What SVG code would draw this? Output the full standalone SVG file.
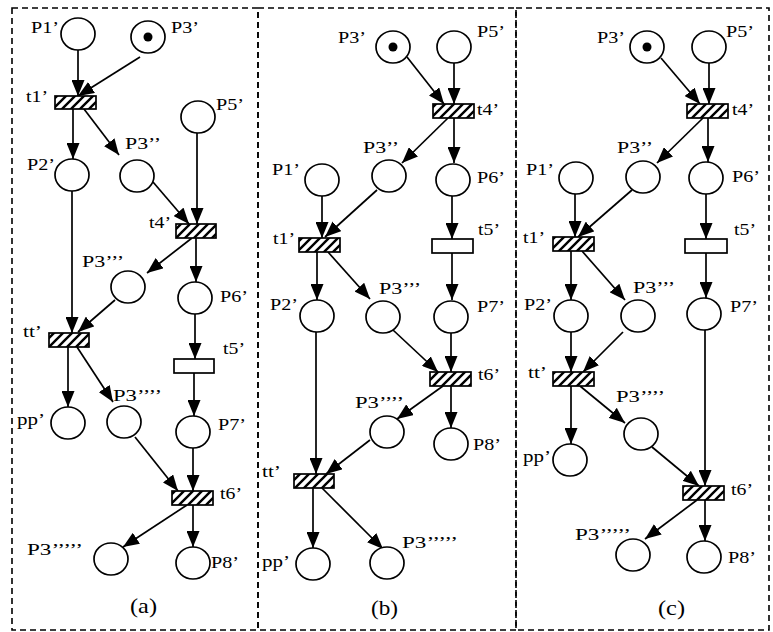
<svg xmlns="http://www.w3.org/2000/svg" width="773" height="632" viewBox="0 0 773 632">
<style>
.frame{fill:none;stroke:#000;stroke-width:1.6;stroke-dasharray:6 4}
.pl{fill:#fff;stroke:#000;stroke-width:1.7}
.tk{fill:#000}
.tr{fill:url(#hatch);stroke:#000;stroke-width:1.7}
.tw{fill:#fff;stroke:#000;stroke-width:1.7}
.arc{fill:none;stroke:#000;stroke-width:1.7;marker-end:url(#ah)}
.lb{font-family:"Liberation Serif","Times New Roman",serif;font-size:17.5px;fill:#000}
.cap{font-family:"Liberation Serif","Times New Roman",serif;font-size:21px;fill:#000}
</style>
<defs>
<pattern id="hatch" patternUnits="userSpaceOnUse" width="9" height="9">
<rect width="9" height="9" fill="#fff"/>
<path d="M-2,2 L2,-2 M0,9 L9,0 M7,11 L11,7" stroke="#000" stroke-width="2.4"/>
</pattern>
<marker id="ah" markerUnits="userSpaceOnUse" markerWidth="16" markerHeight="13" refX="16" refY="6.5" orient="auto">
<path d="M0,0 L16,6.5 L0,13 z" fill="#000"/>
</marker>
</defs>
<rect class="frame" x="12" y="8" width="246" height="622"/>
<rect class="frame" x="258" y="8" width="258" height="622"/>
<rect class="frame" x="516" y="8" width="253" height="622"/>

<!-- Panel (a) -->
<g id="connectors-a">
<line class="arc" x1="78" y1="50" x2="78" y2="96"/>
<line class="arc" x1="140" y1="57" x2="78" y2="96"/>
<line class="arc" x1="73" y1="109" x2="73" y2="159"/>
<line class="arc" x1="84" y1="109" x2="119" y2="155"/>
<line class="arc" x1="197" y1="133" x2="197" y2="224"/>
<line class="arc" x1="153" y1="182" x2="189" y2="224"/>
<line class="arc" x1="192" y1="238" x2="147" y2="273"/>
<line class="arc" x1="196" y1="238" x2="196" y2="282"/>
<line class="arc" x1="115" y1="300" x2="78" y2="332"/>
<line class="arc" x1="72" y1="191" x2="72" y2="333"/>
<line class="arc" x1="195" y1="314" x2="195" y2="359"/>
<line class="arc" x1="194" y1="373" x2="194" y2="416"/>
<line class="arc" x1="68" y1="347" x2="68" y2="407"/>
<line class="arc" x1="77" y1="347" x2="113" y2="402"/>
<line class="arc" x1="135" y1="437" x2="178" y2="491"/>
<line class="arc" x1="193" y1="448" x2="193" y2="491"/>
<line class="arc" x1="187" y1="505" x2="123" y2="547"/>
<line class="arc" x1="193" y1="505" x2="193" y2="547"/>
</g>
<g id="a-P1"><ellipse class="pl" cx="78" cy="34" rx="17" ry="16"/><text class="lb" x="31" y="33" textLength="28" lengthAdjust="spacingAndGlyphs">P1’</text></g>
<g id="a-P3"><ellipse class="pl" cx="148" cy="37" rx="17" ry="16"/><circle class="tk" cx="148" cy="37" r="4.5"/><text class="lb" x="171" y="33" textLength="28" lengthAdjust="spacingAndGlyphs">P3’</text></g>
<g id="a-t1"><rect class="tr" x="55" y="96" width="41" height="13"/><text class="lb" x="26" y="102" textLength="22" lengthAdjust="spacingAndGlyphs">t1’</text></g>
<g id="a-P5"><ellipse class="pl" cx="198" cy="117" rx="17" ry="16"/><text class="lb" x="216" y="110" textLength="28" lengthAdjust="spacingAndGlyphs">P5’</text></g>
<g id="a-P2"><ellipse class="pl" cx="72" cy="175" rx="17" ry="16"/><text class="lb" x="27" y="170" textLength="28" lengthAdjust="spacingAndGlyphs">P2’</text></g>
<g id="a-P3b"><ellipse class="pl" cx="137" cy="176" rx="17" ry="16"/><text class="lb" x="125" y="149" textLength="36" lengthAdjust="spacingAndGlyphs">P3’’</text></g>
<g id="a-t4"><rect class="tr" x="176" y="224" width="40" height="14"/><text class="lb" x="149" y="228" textLength="22" lengthAdjust="spacingAndGlyphs">t4’</text></g>
<g id="a-P3c"><ellipse class="pl" cx="128" cy="287" rx="17" ry="16"/><text class="lb" x="82" y="267" textLength="42" lengthAdjust="spacingAndGlyphs">P3’’’</text></g>
<g id="a-P6"><ellipse class="pl" cx="195" cy="298" rx="17" ry="16"/><text class="lb" x="220" y="302" textLength="28" lengthAdjust="spacingAndGlyphs">P6’</text></g>
<g id="a-tt"><rect class="tr" x="49" y="333" width="40" height="14"/><text class="lb" x="23" y="337" textLength="19" lengthAdjust="spacingAndGlyphs">tt’</text></g>
<g id="a-t5"><rect class="tw" x="174" y="359" width="40" height="14"/><text class="lb" x="223" y="354" textLength="22" lengthAdjust="spacingAndGlyphs">t5’</text></g>
<g id="a-pp"><ellipse class="pl" cx="68" cy="423" rx="17" ry="16"/><text class="lb" x="17" y="425" textLength="28" lengthAdjust="spacingAndGlyphs">pp’</text></g>
<g id="a-P3d"><ellipse class="pl" cx="124" cy="422" rx="17" ry="16"/><text class="lb" x="113" y="401" textLength="49" lengthAdjust="spacingAndGlyphs">P3’’’’</text></g>
<g id="a-P7"><ellipse class="pl" cx="193" cy="432" rx="17" ry="16"/><text class="lb" x="218" y="430" textLength="28" lengthAdjust="spacingAndGlyphs">P7’</text></g>
<g id="a-t6"><rect class="tr" x="172" y="491" width="41" height="14"/><text class="lb" x="220" y="499" textLength="22" lengthAdjust="spacingAndGlyphs">t6’</text></g>
<g id="a-P3e"><ellipse class="pl" cx="111" cy="559" rx="17" ry="16"/><text class="lb" x="27" y="555" textLength="56" lengthAdjust="spacingAndGlyphs">P3’’’’’</text></g>
<g id="a-P8"><ellipse class="pl" cx="193" cy="563" rx="17" ry="16"/><text class="lb" x="211" y="568" textLength="28" lengthAdjust="spacingAndGlyphs">P8’</text></g>
<text class="cap" x="130" y="613" textLength="27" lengthAdjust="spacingAndGlyphs">(a)</text>

<!-- Panel (b) -->
<g id="connectors-b">
<line class="arc" x1="407" y1="57" x2="444" y2="104"/>
<line class="arc" x1="454" y1="63" x2="454" y2="104"/>
<line class="arc" x1="448" y1="118" x2="402" y2="163"/>
<line class="arc" x1="454" y1="118" x2="454" y2="163"/>
<line class="arc" x1="322" y1="196" x2="322" y2="238"/>
<line class="arc" x1="377" y1="190" x2="325" y2="237"/>
<line class="arc" x1="452" y1="196" x2="452" y2="239"/>
<line class="arc" x1="317" y1="252" x2="317" y2="300"/>
<line class="arc" x1="328" y1="252" x2="370" y2="299"/>
<line class="arc" x1="452" y1="253" x2="452" y2="300"/>
<line class="arc" x1="316" y1="332" x2="316" y2="474"/>
<line class="arc" x1="393" y1="330" x2="438" y2="372"/>
<line class="arc" x1="451" y1="333" x2="451" y2="372"/>
<line class="arc" x1="443" y1="386" x2="397" y2="419"/>
<line class="arc" x1="451" y1="386" x2="451" y2="428"/>
<line class="arc" x1="370" y1="440" x2="326" y2="474"/>
<line class="arc" x1="313" y1="488" x2="313" y2="548"/>
<line class="arc" x1="322" y1="488" x2="383" y2="549"/>
</g>
<g id="b-P3"><ellipse class="pl" cx="393" cy="47" rx="17" ry="16"/><circle class="tk" cx="393" cy="47" r="4.5"/><text class="lb" x="338" y="43" textLength="28" lengthAdjust="spacingAndGlyphs">P3’</text></g>
<g id="b-P5"><ellipse class="pl" cx="454" cy="47" rx="17" ry="16"/><text class="lb" x="477" y="37" textLength="28" lengthAdjust="spacingAndGlyphs">P5’</text></g>
<g id="b-t4"><rect class="tr" x="433" y="104" width="41" height="14"/><text class="lb" x="477" y="115" textLength="22" lengthAdjust="spacingAndGlyphs">t4’</text></g>
<g id="b-P3b"><ellipse class="pl" cx="389" cy="176" rx="17" ry="16"/><text class="lb" x="363" y="153" textLength="36" lengthAdjust="spacingAndGlyphs">P3’’</text></g>
<g id="b-P1"><ellipse class="pl" cx="322" cy="180" rx="17" ry="16"/><text class="lb" x="272" y="175" textLength="28" lengthAdjust="spacingAndGlyphs">P1’</text></g>
<g id="b-P6"><ellipse class="pl" cx="453" cy="180" rx="17" ry="16"/><text class="lb" x="477" y="183" textLength="28" lengthAdjust="spacingAndGlyphs">P6’</text></g>
<g id="b-t1"><rect class="tr" x="299" y="238" width="41" height="14"/><text class="lb" x="273" y="244" textLength="22" lengthAdjust="spacingAndGlyphs">t1’</text></g>
<g id="b-t5"><rect class="tw" x="432" y="239" width="41" height="14"/><text class="lb" x="478" y="235" textLength="22" lengthAdjust="spacingAndGlyphs">t5’</text></g>
<g id="b-P2"><ellipse class="pl" cx="317" cy="316" rx="17" ry="16"/><text class="lb" x="270" y="310" textLength="28" lengthAdjust="spacingAndGlyphs">P2’</text></g>
<g id="b-P3c"><ellipse class="pl" cx="383" cy="317" rx="17" ry="16"/><text class="lb" x="379" y="294" textLength="42" lengthAdjust="spacingAndGlyphs">P3’’’</text></g>
<g id="b-P7"><ellipse class="pl" cx="451" cy="317" rx="17" ry="16"/><text class="lb" x="477" y="312" textLength="28" lengthAdjust="spacingAndGlyphs">P7’</text></g>
<g id="b-t6"><rect class="tr" x="430" y="372" width="41" height="14"/><text class="lb" x="478" y="380" textLength="22" lengthAdjust="spacingAndGlyphs">t6’</text></g>
<g id="b-P3d"><ellipse class="pl" cx="387" cy="432" rx="17" ry="16"/><text class="lb" x="355" y="408" textLength="49" lengthAdjust="spacingAndGlyphs">P3’’’’</text></g>
<g id="b-P8"><ellipse class="pl" cx="451" cy="444" rx="17" ry="16"/><text class="lb" x="473" y="450" textLength="28" lengthAdjust="spacingAndGlyphs">P8’</text></g>
<g id="b-tt"><rect class="tr" x="294" y="474" width="40" height="14"/><text class="lb" x="262" y="477" textLength="19" lengthAdjust="spacingAndGlyphs">tt’</text></g>
<g id="b-pp"><ellipse class="pl" cx="313" cy="564" rx="17" ry="16"/><text class="lb" x="262" y="567" textLength="28" lengthAdjust="spacingAndGlyphs">pp’</text></g>
<g id="b-P3e"><ellipse class="pl" cx="387" cy="563" rx="17" ry="16"/><text class="lb" x="402" y="548" textLength="56" lengthAdjust="spacingAndGlyphs">P3’’’’’</text></g>
<text class="cap" x="371" y="615" textLength="27" lengthAdjust="spacingAndGlyphs">(b)</text>

<!-- Panel (c) -->
<g id="connectors-c">
<line class="arc" x1="661" y1="58" x2="700" y2="104"/>
<line class="arc" x1="709" y1="63" x2="709" y2="104"/>
<line class="arc" x1="703" y1="118" x2="657" y2="163"/>
<line class="arc" x1="708" y1="118" x2="708" y2="162"/>
<line class="arc" x1="575" y1="194" x2="575" y2="237"/>
<line class="arc" x1="632" y1="190" x2="578" y2="237"/>
<line class="arc" x1="706" y1="194" x2="706" y2="239"/>
<line class="arc" x1="571" y1="251" x2="571" y2="300"/>
<line class="arc" x1="582" y1="251" x2="625" y2="300"/>
<line class="arc" x1="706" y1="253" x2="706" y2="298"/>
<line class="arc" x1="571" y1="332" x2="571" y2="372"/>
<line class="arc" x1="623" y1="332" x2="583" y2="372"/>
<line class="arc" x1="705" y1="330" x2="705" y2="486"/>
<line class="arc" x1="571" y1="386" x2="571" y2="444"/>
<line class="arc" x1="580" y1="386" x2="625" y2="423"/>
<line class="arc" x1="652" y1="447" x2="699" y2="486"/>
<line class="arc" x1="697" y1="500" x2="645" y2="539"/>
<line class="arc" x1="705" y1="500" x2="705" y2="541"/>
</g>
<g id="c-P3"><ellipse class="pl" cx="647" cy="47" rx="17" ry="16"/><circle class="tk" cx="647" cy="47" r="4.5"/><text class="lb" x="597" y="43" textLength="28" lengthAdjust="spacingAndGlyphs">P3’</text></g>
<g id="c-P5"><ellipse class="pl" cx="709" cy="47" rx="17" ry="16"/><text class="lb" x="726" y="37" textLength="28" lengthAdjust="spacingAndGlyphs">P5’</text></g>
<g id="c-t4"><rect class="tr" x="687" y="104" width="41" height="14"/><text class="lb" x="732" y="115" textLength="22" lengthAdjust="spacingAndGlyphs">t4’</text></g>
<g id="c-P3b"><ellipse class="pl" cx="643" cy="177" rx="17" ry="16"/><text class="lb" x="617" y="153" textLength="36" lengthAdjust="spacingAndGlyphs">P3’’</text></g>
<g id="c-P1"><ellipse class="pl" cx="576" cy="178" rx="17" ry="16"/><text class="lb" x="526" y="175" textLength="28" lengthAdjust="spacingAndGlyphs">P1’</text></g>
<g id="c-P6"><ellipse class="pl" cx="706" cy="178" rx="17" ry="16"/><text class="lb" x="732" y="182" textLength="28" lengthAdjust="spacingAndGlyphs">P6’</text></g>
<g id="c-t1"><rect class="tr" x="553" y="237" width="41" height="14"/><text class="lb" x="523" y="243" textLength="22" lengthAdjust="spacingAndGlyphs">t1’</text></g>
<g id="c-t5"><rect class="tw" x="685" y="239" width="42" height="14"/><text class="lb" x="734" y="235" textLength="22" lengthAdjust="spacingAndGlyphs">t5’</text></g>
<g id="c-P2"><ellipse class="pl" cx="571" cy="316" rx="17" ry="16"/><text class="lb" x="524" y="310" textLength="28" lengthAdjust="spacingAndGlyphs">P2’</text></g>
<g id="c-P3c"><ellipse class="pl" cx="638" cy="316" rx="17" ry="16"/><text class="lb" x="633" y="293" textLength="42" lengthAdjust="spacingAndGlyphs">P3’’’</text></g>
<g id="c-P7"><ellipse class="pl" cx="704" cy="314" rx="17" ry="16"/><text class="lb" x="730" y="312" textLength="28" lengthAdjust="spacingAndGlyphs">P7’</text></g>
<g id="c-tt"><rect class="tr" x="553" y="372" width="41" height="14"/><text class="lb" x="528" y="378" textLength="19" lengthAdjust="spacingAndGlyphs">tt’</text></g>
<g id="c-P3d"><ellipse class="pl" cx="641" cy="434" rx="17" ry="16"/><text class="lb" x="616" y="402" textLength="49" lengthAdjust="spacingAndGlyphs">P3’’’’</text></g>
<g id="c-pp"><ellipse class="pl" cx="570" cy="460" rx="17" ry="16"/><text class="lb" x="523" y="462" textLength="28" lengthAdjust="spacingAndGlyphs">pp’</text></g>
<g id="c-t6"><rect class="tr" x="683" y="486" width="41" height="14"/><text class="lb" x="731" y="495" textLength="22" lengthAdjust="spacingAndGlyphs">t6’</text></g>
<g id="c-P3e"><ellipse class="pl" cx="633" cy="555" rx="17" ry="16"/><text class="lb" x="575" y="540" textLength="56" lengthAdjust="spacingAndGlyphs">P3’’’’’</text></g>
<g id="c-P8"><ellipse class="pl" cx="704" cy="557" rx="17" ry="16"/><text class="lb" x="728" y="563" textLength="28" lengthAdjust="spacingAndGlyphs">P8’</text></g>
<text class="cap" x="658" y="615" textLength="27" lengthAdjust="spacingAndGlyphs">(c)</text>
</svg>
